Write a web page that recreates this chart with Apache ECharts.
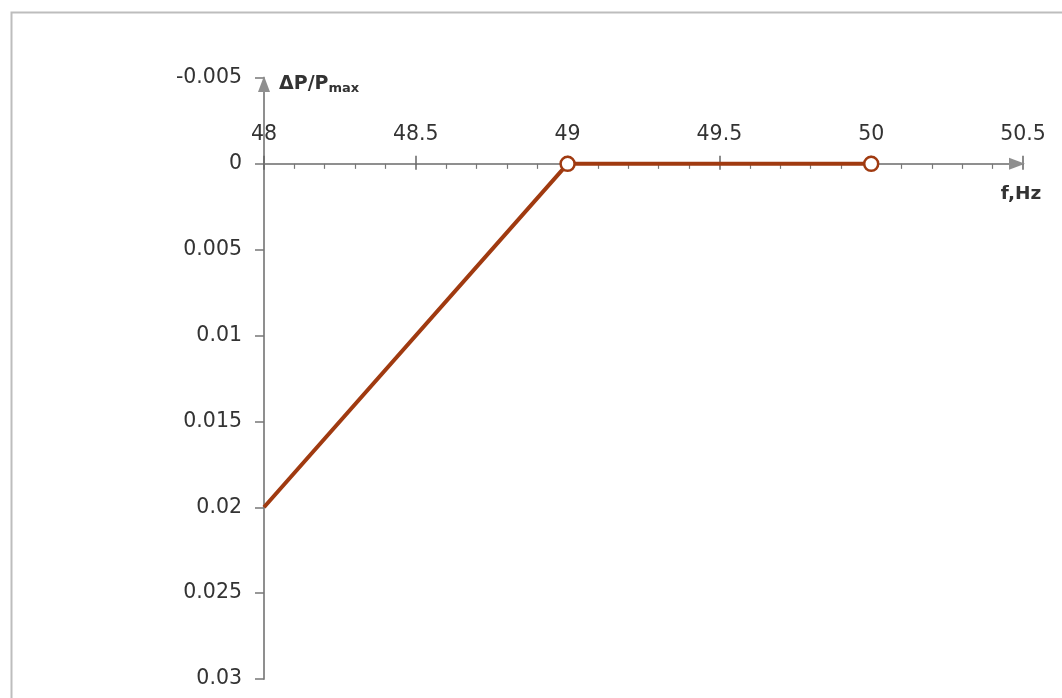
<!DOCTYPE html>
<html>
<head>
<meta charset="utf-8">
<script src="https://cdn.jsdelivr.net/npm/echarts@6/dist/echarts.min.js"></script>
<style>html,body{margin:0;padding:0;background:#fff}#c{width:1062px;height:698px}</style>
</head>
<body>
<div id="c"></div>
<script>
// Data
const freqHz = [48, 49, 50];
const deltaP = [0.02, 0, 0];
const xTicks = [48, 48.5, 49, 49.5, 50, 50.5];
const yTicks = [-0.005, 0, 0.005, 0.01, 0.015, 0.02, 0.025, 0.03];

const axisColor = '#8f8f8f';
const textColor = '#333';
const lineColor = '#A03A10';
const font = 'DejaVu Sans';

const gridTop = 78, gridBottom = 19, H = 698;
const plotH = H - gridTop - gridBottom;
const yMin = yTicks[0], yMax = yTicks[yTicks.length - 1];
// pixel distance from top grid edge down to y=0 (x axis sits on y = 0)
const zeroOffset = plotH * (0 - yMin) / (yMax - yMin);

const chart = echarts.init(document.getElementById('c'), null, {renderer: 'canvas'});
chart.setOption({
  backgroundColor: '#fff',
  animation: false,
  textStyle: {fontFamily: font},
  grid: {left: 264, right: 39, top: gridTop, bottom: gridBottom, containLabel: false},
  xAxis: [{
    type: 'value', position: 'top', offset: -zeroOffset,
    min: xTicks[0], max: xTicks[xTicks.length - 1], interval: 0.5,
    axisLine: {show: true, onZero: false, lineStyle: {color: axisColor, width: 2},
      symbol: ['none', 'triangle'], symbolSize: [12, 16], symbolOffset: [0, -6]},
    axisTick: {show: true, inside: true, length: 6, lineStyle: {color: '#666', width: 1.5}},
    minorTick: {show: true, splitNumber: 5, length: 5, lineStyle: {color: '#777', width: 1.2}},
    axisLabel: {margin: 19, color: textColor, fontSize: 20.5, fontFamily: font},
    splitLine: {show: false}, minorSplitLine: {show: false}
  }, {
    type: 'value', position: 'top', offset: -zeroOffset,
    min: xTicks[0], max: xTicks[xTicks.length - 1], interval: 0.5,
    axisLine: {show: false, onZero: false},
    axisTick: {show: true, inside: false, length: 8, lineStyle: {color: '#666', width: 1.5}},
    axisLabel: {show: false},
    splitLine: {show: false}
  }],
  yAxis: {
    type: 'value', inverse: true,
    min: yMin, max: yMax, interval: 0.005,
    axisLine: {show: true, onZero: false, lineStyle: {color: axisColor, width: 2},
      symbol: ['none', 'triangle'], symbolSize: [12, 16], symbolOffset: [0, -6]},
    axisTick: {show: true, inside: false, length: 9, lineStyle: {color: '#777', width: 1.5}},
    axisLabel: {margin: 22, color: textColor, fontSize: 20.5, fontFamily: font,
      formatter: v => String(+v.toFixed(4))},
    splitLine: {show: false}
  },
  series: [{
    type: 'line',
    xAxisIndex: 0,
    data: freqHz.map((f, i) => [f, deltaP[i]]),
    symbol: (val, p) => p.dataIndex === 0 ? 'none' : 'circle',
    symbolSize: 14,
    showSymbol: true,
    lineStyle: {color: lineColor, width: 4},
    itemStyle: {color: '#fff', borderColor: lineColor, borderWidth: 2.5},
    z: 3
  }],
  graphic: [
    {type: 'rect', left: 9, top: 10, shape: {width: 1200, height: 900},
      style: {fill: 'none', stroke: '#bdbdbd', lineWidth: 2}, silent: true, z: -1},
    {type: 'text', x: 279, y: 84, style: {
      text: '{a|ΔP/P}{b|max}', verticalAlign: 'middle', fontFamily: font,
      rich: {a: {fontSize: 19, fontWeight: 'bold', fill: textColor, fontFamily: font},
             b: {fontSize: 13, fontWeight: 'bold', fill: textColor, fontFamily: font, padding: [10, 0, 0, 0]}}
    }},
    {type: 'text', x: 1021, y: 194, style: {
      text: 'f,Hz', align: 'center', verticalAlign: 'middle', fontSize: 18.5, fontWeight: 'bold',
      fill: textColor, fontFamily: font
    }}
  ]
});
</script>
</body>
</html>
